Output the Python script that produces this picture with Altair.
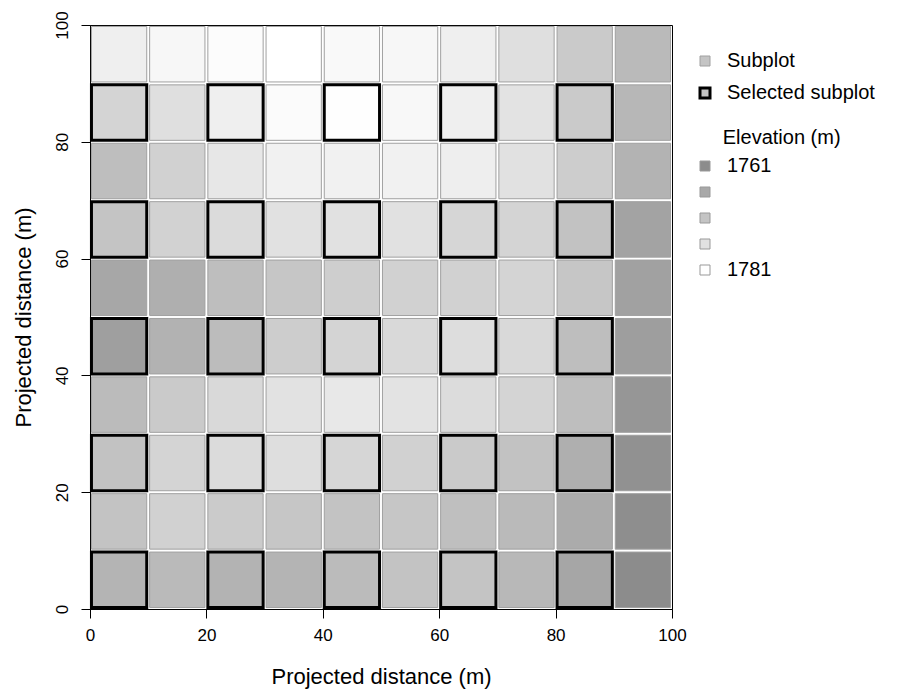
import altair as alt
import pandas as pd

FONT = "Liberation Sans"

# Lower-left corners of the 10 m x 10 m subplots
X_STARTS = [0, 10, 20, 30, 40, 50, 60, 70, 80, 90]
Y_STARTS = [90, 80, 70, 60, 50, 40, 30, 20, 10, 0]   # rows listed top -> bottom

# Elevation (m) per subplot, one list per row (left -> right)
ELEV_Y90 = [1778.4, 1779.6, 1780.5, 1781.0, 1780.0, 1779.6, 1778.4, 1775.6, 1772.1, 1769.2]
ELEV_Y80 = [1773.7, 1775.6, 1778.4, 1780.3, 1780.8, 1779.8, 1778.4, 1776.3, 1772.1, 1768.8]
ELEV_Y70 = [1769.9, 1773.3, 1777.0, 1778.7, 1778.7, 1778.7, 1778.2, 1776.0, 1772.5, 1768.1]
ELEV_Y60 = [1771.1, 1773.5, 1774.9, 1776.0, 1776.0, 1776.0, 1774.2, 1773.7, 1770.7, 1765.2]
ELEV_Y50 = [1765.9, 1767.3, 1769.9, 1771.4, 1772.8, 1773.3, 1773.3, 1773.7, 1771.4, 1764.8]
ELEV_Y40 = [1764.5, 1767.8, 1769.7, 1772.5, 1773.7, 1774.6, 1775.3, 1774.6, 1770.0, 1764.3]
ELEV_Y30 = [1769.5, 1772.0, 1774.6, 1776.1, 1777.2, 1776.3, 1775.1, 1773.7, 1769.9, 1762.9]
ELEV_Y20 = [1770.7, 1773.7, 1774.9, 1775.4, 1774.2, 1773.3, 1772.1, 1770.6, 1767.4, 1762.0]
ELEV_Y10 = [1770.9, 1773.2, 1772.3, 1771.4, 1770.9, 1771.4, 1770.2, 1769.2, 1766.6, 1761.3]
ELEV_Y00 = [1768.3, 1769.2, 1768.0, 1768.3, 1769.5, 1770.9, 1771.1, 1769.0, 1765.7, 1761.0]
ELEVATION = [ELEV_Y90, ELEV_Y80, ELEV_Y70, ELEV_Y60, ELEV_Y50,
             ELEV_Y40, ELEV_Y30, ELEV_Y20, ELEV_Y10, ELEV_Y00]

SELECTED_X = [0, 20, 40, 60, 80]
SELECTED_Y = [0, 20, 40, 60, 80]
SUBPLOT_TYPES = ["Subplot", "Selected subplot"]

ELEV_RANGE = [1761, 1781]
ELEV_LEGEND_VALUES = [1761, 1766, 1771, 1776, 1781]
TICKS = [0, 20, 40, 60, 80, 100]

records = []
for yi, y0 in enumerate(Y_STARTS):
    for xi, x0 in enumerate(X_STARTS):
        sel = (x0 in SELECTED_X) and (y0 in SELECTED_Y)
        records.append({
            "x": x0,
            "y": y0,
            "elevation": ELEVATION[yi][xi],
            "type": SUBPLOT_TYPES[1] if sel else SUBPLOT_TYPES[0],
        })
df = pd.DataFrame(records)

type_legend = dict(
    orient="none", legendX=605, legendY=26, title=None,
    symbolType="square", symbolSize=100, symbolFillColor="#c4c4c4",
    labelFont=FONT, labelFontSize=20, labelColor="black",
    rowPadding=11, labelOffset=12, padding=0,
)

label_expr = (
    f"datum.value == {ELEV_RANGE[0]} || datum.value == {ELEV_RANGE[1]} ? datum.label : ''"
)

# zero-width space keeps the indent spaces from being trimmed
ELEV_TITLE = "\u200b" + "\u00a0" * 5 + "Elevation (m)"

chart = (
    alt.Chart(df)
    .transform_calculate(
        x0="datum.x + 0.25", x1="datum.x + 9.75",
        y0="datum.y + 0.25", y1="datum.y + 9.75",
    )
    .mark_rect()
    .encode(
        x=alt.X(
            "x0:Q",
            scale=alt.Scale(domain=[0, 100], nice=False, zero=False),
            axis=alt.Axis(
                values=TICKS, title="Projected distance (m)", grid=False,
                labelFlush=False, labelFontSize=17, labelPadding=9, tickSize=9,
                titleFontSize=22, titleFontWeight="normal",
                titleX=291, titleY=74, titleBaseline="alphabetic", titleAlign="center",
            ),
        ),
        x2="x1:Q",
        y=alt.Y(
            "y0:Q",
            scale=alt.Scale(domain=[0, 100], nice=False, zero=False),
            axis=alt.Axis(
                values=TICKS, title="Projected distance (m)", grid=False,
                labelAngle=270, labelAlign="center", labelBaseline="alphabetic",
                labelFontSize=17, labelPadding=14, tickSize=9,
                titleFontSize=22, titleFontWeight="normal", titleAngle=270,
                titleX=-60, titleY=292, titleBaseline="alphabetic", titleAlign="center",
            ),
        ),
        y2="y1:Q",
        fill=alt.Fill(
            "elevation:Q",
            scale=alt.Scale(domain=ELEV_RANGE, range=["#8c8c8c", "#ffffff"]),
            legend=alt.Legend(
                type="symbol", values=ELEV_LEGEND_VALUES, format="d",
                labelExpr=label_expr,
                title=ELEV_TITLE,
                orient="none", legendX=605, legendY=103,
                symbolType="square", symbolSize=100,
                symbolStrokeColor="#999999", symbolStrokeWidth=1,
                labelFont=FONT, labelFontSize=20, labelColor="black",
                titleFont=FONT, titleFontSize=20, titleFontWeight="normal",
                titleColor="black", titlePadding=8,
                rowPadding=6, labelOffset=12, padding=0,
            ),
        ),
        stroke=alt.Stroke(
            "type:N",
            scale=alt.Scale(type="ordinal", domain=SUBPLOT_TYPES, range=["#a0a0a0", "#000000"]),
            legend=alt.Legend(**type_legend),
        ),
        strokeWidth=alt.StrokeWidth(
            "type:N",
            scale=alt.Scale(type="ordinal", domain=SUBPLOT_TYPES, range=[1, 3]),
            legend=alt.Legend(**type_legend),
        ),
    )
    .properties(
        width=582, height=584,
        autosize=alt.AutoSizeParams(type="none"),
        padding={"left": 90, "top": 25, "right": 226, "bottom": 81},
    )
    .configure(font=FONT, background="white")
    .configure_view(stroke="#000000", strokeWidth=1)
    .configure_axis(
        domainColor="#000000", tickColor="#000000", labelColor="#000000",
        titleColor="#000000", labelFont=FONT, titleFont=FONT,
        domainWidth=1, tickWidth=1,
    )
)

chart.save("out.html", embed_options={"renderer": "svg", "actions": False})
